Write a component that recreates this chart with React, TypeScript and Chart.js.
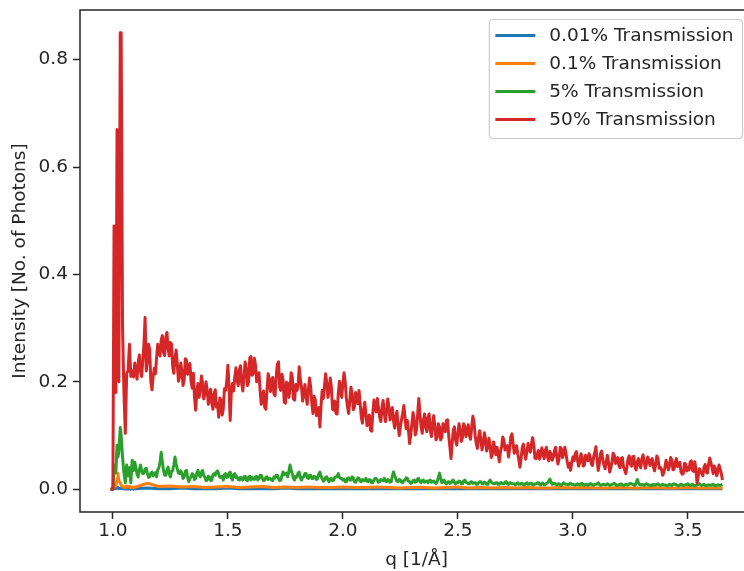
import React, { useEffect, useRef } from 'react';
import { Chart, registerables } from 'chart.js';

Chart.register(...registerables);

// ---------------- data ----------------
const SERIES_LABELS = ['0.01% Transmission', '0.1% Transmission', '5% Transmission', '50% Transmission'];
const SERIES_COLORS = ['#1f77b4', '#ff7f0e', '#2ca02c', '#d62728'];

const X_TICKS = [1.0, 1.5, 2.0, 2.5, 3.0, 3.5];
const Y_TICKS = [0.0, 0.2, 0.4, 0.6, 0.8];
const X_MIN = 0.857;
const X_MAX = 3.783;
const Y_MIN = -0.0425;
const Y_MAX = 0.8925;

// irregular sampling of the sharp onset region
const EARLY_Q = [0.99, 1.0, 1.005, 1.01, 1.013, 1.018, 1.022, 1.026, 1.032, 1.036, 1.042, 1.048, 1.054, 1.06, 1.066, 1.072, 1.078, 1.084, 1.09, 1.095];
// regular sampling after the onset
const MAIN_Q_START = 1.1;
const MAIN_Q_STEP = 0.005;
const COARSE_Q_STEP = 0.05;

const RED_EARLY = [0, 0, 0.49, 0.49, 0.18, 0.67, 0.67, 0.2, 0.85, 0.85, 0.3, 0.18, 0.104, 0.216, 0.22, 0.27, 0.21, 0.22, 0.209, 0.235];
const RED_MAIN = [
  0.22, 0.205, 0.235, 0.25, 0.22, 0.21, 0.24, 0.27, 0.32, 0.22, 0.24, 0.27, 0.26, 0.2, 0.185, 0.21, 0.225, 0.215, 0.245, 0.27,
  0.26, 0.248, 0.277, 0.286, 0.255, 0.249, 0.283, 0.292, 0.262, 0.248, 0.273, 0.27, 0.228, 0.216, 0.245, 0.259, 0.233, 0.201, 0.209, 0.235,
  0.22, 0.193, 0.205, 0.243, 0.24, 0.214, 0.228, 0.234, 0.2, 0.188, 0.216, 0.17, 0.147, 0.182, 0.197, 0.171, 0.184, 0.211, 0.197, 0.168,
  0.178, 0.2, 0.185, 0.158, 0.172, 0.186, 0.16, 0.149, 0.178, 0.185, 0.153, 0.16, 0.134, 0.17, 0.166, 0.138, 0.15, 0.187, 0.184, 0.2,
  0.231, 0.19, 0.128, 0.183, 0.197, 0.183, 0.209, 0.226, 0.203, 0.193, 0.222, 0.23, 0.197, 0.183, 0.209, 0.237, 0.225, 0.193, 0.2, 0.244,
  0.247, 0.212, 0.216, 0.244, 0.231, 0.2, 0.209, 0.217, 0.184, 0.158, 0.172, 0.183, 0.153, 0.149, 0.184, 0.215, 0.206, 0.182, 0.197, 0.208,
  0.178, 0.174, 0.209, 0.233, 0.237, 0.19, 0.184, 0.214, 0.203, 0.162, 0.16, 0.199, 0.197, 0.171, 0.185, 0.217, 0.209, 0.168, 0.166, 0.195,
  0.184, 0.19, 0.228, 0.205, 0.19, 0.164, 0.178, 0.195, 0.172, 0.158, 0.184, 0.207, 0.19, 0.16, 0.141, 0.173, 0.166, 0.137, 0.147, 0.152,
  0.116, 0.155, 0.184, 0.169, 0.193, 0.215, 0.197, 0.171, 0.184, 0.207, 0.19, 0.149, 0.147, 0.164, 0.141, 0.14, 0.178, 0.201, 0.184, 0.171,
  0.198, 0.217, 0.2, 0.17, 0.153, 0.141, 0.165, 0.19, 0.178, 0.148, 0.153, 0.18, 0.17, 0.159, 0.184, 0.16, 0.134, 0.123, 0.147, 0.162,
  0.141, 0.118, 0.13, 0.138, 0.11, 0.108, 0.141, 0.166, 0.155, 0.144, 0.169, 0.15, 0.134, 0.126, 0.153, 0.165, 0.14, 0.126, 0.147, 0.168,
  0.153, 0.129, 0.14, 0.152, 0.128, 0.114, 0.135, 0.145, 0.119, 0.1, 0.116, 0.13, 0.141, 0.156, 0.134, 0.113, 0.128, 0.11, 0.085, 0.1,
  0.122, 0.143, 0.128, 0.101, 0.11, 0.14, 0.169, 0.14, 0.116, 0.104, 0.128, 0.14, 0.116, 0.107, 0.134, 0.14, 0.11, 0.098, 0.122, 0.137,
  0.116, 0.092, 0.097, 0.122, 0.116, 0.092, 0.097, 0.122, 0.116, 0.107, 0.128, 0.129, 0.1, 0.08, 0.057, 0.085, 0.11, 0.116, 0.091, 0.082,
  0.103, 0.122, 0.11, 0.089, 0.097, 0.122, 0.116, 0.098, 0.11, 0.12, 0.1, 0.093, 0.116, 0.136, 0.125, 0.1, 0.085, 0.076, 0.097, 0.109,
  0.091, 0.073, 0.085, 0.105, 0.094, 0.071, 0.078, 0.095, 0.081, 0.059, 0.066, 0.088, 0.079, 0.064, 0.078, 0.065, 0.051, 0.07, 0.079, 0.097,
  0.091, 0.073, 0.078, 0.081, 0.06, 0.075, 0.097, 0.103, 0.085, 0.067, 0.072, 0.081, 0.066, 0.055, 0.041, 0.058, 0.078, 0.084, 0.066, 0.056,
  0.07, 0.085, 0.076, 0.069, 0.085, 0.096, 0.082, 0.058, 0.057, 0.065, 0.072, 0.056, 0.063, 0.077, 0.066, 0.057, 0.072, 0.078, 0.06, 0.053,
  0.07, 0.065, 0.054, 0.06, 0.072, 0.078, 0.06, 0.047, 0.057, 0.078, 0.075, 0.059, 0.066, 0.078, 0.066, 0.052, 0.041, 0.048, 0.035, 0.05,
  0.06, 0.053, 0.066, 0.07, 0.054, 0.043, 0.051, 0.066, 0.06, 0.043, 0.045, 0.063, 0.06, 0.053, 0.066, 0.06, 0.047, 0.044, 0.06, 0.068,
  0.079, 0.055, 0.035, 0.048, 0.066, 0.071, 0.055, 0.045, 0.038, 0.05, 0.063, 0.05, 0.032, 0.04, 0.051, 0.067, 0.063, 0.048, 0.054, 0.059,
  0.044, 0.04, 0.057, 0.059, 0.041, 0.036, 0.029, 0.042, 0.057, 0.062, 0.047, 0.043, 0.06, 0.061, 0.041, 0.036, 0.051, 0.057, 0.044, 0.04,
  0.057, 0.064, 0.051, 0.039, 0.047, 0.06, 0.054, 0.044, 0.054, 0.057, 0.041, 0.034, 0.047, 0.062, 0.057, 0.039, 0.041, 0.037, 0.026, 0.03,
  0.041, 0.054, 0.047, 0.036, 0.044, 0.059, 0.054, 0.036, 0.038, 0.05, 0.057, 0.042, 0.047, 0.05, 0.032, 0.028, 0.029, 0.048, 0.047, 0.034,
  0.041, 0.036, 0.051, 0.053, 0.035, 0.033, 0.051, 0.036, 0.011, 0.025, 0.038, 0.033, 0.029, 0.025, 0.041, 0.046, 0.032, 0.03, 0.047, 0.058,
  0.049, 0.04, 0.029, 0.043, 0.038, 0.025, 0.032, 0.045, 0.038, 0.03, 0.017,
];

const GREEN_EARLY = [0, 0, 0.04, 0.045, 0.03, 0.082, 0.06, 0.07, 0.115, 0.1, 0.06, 0.03, 0.012, 0.045, 0.025, 0.04, 0.012, 0.054, 0.035, 0.05];
const GREEN_MAIN = [
  0.041, 0.028, 0.023, 0.036, 0.045, 0.034, 0.029, 0.03, 0.038, 0.039, 0.03, 0.022, 0.023, 0.03, 0.032, 0.025, 0.028, 0.031, 0.023, 0.036,
  0.04, 0.05, 0.069, 0.05, 0.035, 0.026, 0.026, 0.036, 0.041, 0.028, 0.023, 0.033, 0.035, 0.045, 0.06, 0.046, 0.038, 0.03, 0.029, 0.034,
  0.029, 0.02, 0.023, 0.033, 0.035, 0.022, 0.014, 0.02, 0.023, 0.029, 0.026, 0.018, 0.02, 0.03, 0.035, 0.026, 0.023, 0.032, 0.035, 0.025,
  0.023, 0.016, 0.017, 0.024, 0.023, 0.016, 0.017, 0.027, 0.029, 0.026, 0.032, 0.034, 0.029, 0.022, 0.023, 0.024, 0.017, 0.027, 0.029, 0.022,
  0.023, 0.03, 0.032, 0.021, 0.017, 0.027, 0.029, 0.022, 0.023, 0.018, 0.017, 0.022, 0.02, 0.017, 0.023, 0.024, 0.017, 0.016, 0.023, 0.024,
  0.017, 0.022, 0.02, 0.018, 0.023, 0.024, 0.017, 0.02, 0.026, 0.026, 0.02, 0.016, 0.017, 0.022, 0.023, 0.018, 0.02, 0.02, 0.017, 0.016,
  0.023, 0.021, 0.026, 0.026, 0.02, 0.016, 0.017, 0.025, 0.032, 0.027, 0.029, 0.03, 0.023, 0.032, 0.045, 0.036, 0.029, 0.02, 0.017, 0.024,
  0.023, 0.03, 0.032, 0.022, 0.017, 0.022, 0.023, 0.029, 0.029, 0.022, 0.02, 0.026, 0.026, 0.02, 0.02, 0.024, 0.023, 0.018, 0.02, 0.028,
  0.032, 0.024, 0.02, 0.015, 0.017, 0.022, 0.023, 0.017, 0.014, 0.019, 0.02, 0.016, 0.017, 0.022, 0.023, 0.024, 0.029, 0.022, 0.02, 0.02,
  0.017, 0.019, 0.014, 0.014, 0.02, 0.021, 0.017, 0.017, 0.023, 0.021, 0.014, 0.013, 0.017, 0.021, 0.02, 0.015, 0.014, 0.018, 0.017, 0.016,
  0.02, 0.015, 0.014, 0.018, 0.017, 0.012, 0.012, 0.017, 0.02, 0.02, 0.017, 0.013, 0.014, 0.018, 0.017, 0.016, 0.02, 0.015, 0.014, 0.018,
  0.017, 0.013, 0.014, 0.024, 0.032, 0.025, 0.02, 0.015, 0.014, 0.018, 0.017, 0.013, 0.012, 0.016, 0.017, 0.021, 0.02, 0.015, 0.014, 0.011,
  0.012, 0.016, 0.017, 0.013, 0.014, 0.019, 0.02, 0.014, 0.012, 0.016, 0.017, 0.013, 0.014, 0.015, 0.012, 0.016, 0.017, 0.013, 0.014, 0.015,
  0.012, 0.011, 0.014, 0.022, 0.03, 0.021, 0.012, 0.016, 0.017, 0.012, 0.01, 0.013, 0.014, 0.011, 0.012, 0.016, 0.017, 0.012, 0.01, 0.013,
  0.012, 0.015, 0.014, 0.01, 0.01, 0.015, 0.017, 0.013, 0.012, 0.01, 0.01, 0.013, 0.014, 0.011, 0.012, 0.012, 0.009, 0.009, 0.012, 0.014,
  0.014, 0.01, 0.01, 0.013, 0.012, 0.009, 0.009, 0.014, 0.017, 0.013, 0.012, 0.01, 0.01, 0.012, 0.012, 0.009, 0.009, 0.012, 0.012, 0.01,
  0.01, 0.013, 0.014, 0.01, 0.009, 0.012, 0.012, 0.01, 0.01, 0.01, 0.008, 0.011, 0.012, 0.009, 0.009, 0.011, 0.011, 0.008, 0.008, 0.011,
  0.012, 0.009, 0.009, 0.011, 0.011, 0.008, 0.008, 0.01, 0.01, 0.012, 0.012, 0.009, 0.008, 0.011, 0.011, 0.008, 0.009, 0.011, 0.012, 0.015,
  0.019, 0.013, 0.009, 0.011, 0.011, 0.009, 0.008, 0.01, 0.01, 0.008, 0.007, 0.01, 0.012, 0.01, 0.009, 0.009, 0.008, 0.01, 0.011, 0.009,
  0.009, 0.008, 0.007, 0.009, 0.01, 0.008, 0.008, 0.01, 0.011, 0.008, 0.007, 0.009, 0.009, 0.007, 0.008, 0.01, 0.01, 0.008, 0.007, 0.009,
  0.009, 0.01, 0.012, 0.009, 0.007, 0.008, 0.009, 0.009, 0.008, 0.008, 0.01, 0.009, 0.007, 0.008, 0.009, 0.01, 0.011, 0.009, 0.007, 0.008,
  0.008, 0.009, 0.01, 0.008, 0.007, 0.008, 0.009, 0.008, 0.008, 0.01, 0.011, 0.01, 0.009, 0.008, 0.007, 0.012, 0.018, 0.012, 0.008, 0.008,
  0.009, 0.008, 0.007, 0.009, 0.01, 0.009, 0.008, 0.007, 0.006, 0.008, 0.009, 0.008, 0.008, 0.009, 0.01, 0.008, 0.007, 0.008, 0.009, 0.008,
  0.008, 0.007, 0.006, 0.008, 0.009, 0.008, 0.007, 0.009, 0.01, 0.009, 0.008, 0.007, 0.006, 0.008, 0.009, 0.008, 0.007, 0.008, 0.008, 0.009,
  0.01, 0.008, 0.007, 0.008, 0.009, 0.007, 0.006, 0.007, 0.008, 0.009, 0.01, 0.008, 0.007, 0.008, 0.009, 0.007, 0.006, 0.007, 0.008, 0.008,
  0.007, 0.008, 0.009, 0.007, 0.006, 0.007, 0.008, 0.008, 0.007, 0.008, 0.009,
];

const ORANGE_EARLY = [0, 0, 0.005, 0.01, 0.006, 0.02, 0.029, 0.015, 0.012, 0.008, 0.005, 0.004, 0.003, 0.006, 0.004, 0.005, 0.003, 0.004, 0.003, 0.004];
const ORANGE_COARSE = [
  0.004, 0.011, 0.005, 0.006, 0.004, 0.005, 0.003, 0.004, 0.005, 0.003,
  0.004, 0.005, 0.003, 0.004, 0.003, 0.004, 0.003, 0.003, 0.004, 0.003,
  0.003, 0.004, 0.003, 0.002, 0.003, 0.003, 0.002, 0.003, 0.004, 0.002,
  0.003, 0.002, 0.003, 0.002, 0.003, 0.002, 0.002, 0.003, 0.002, 0.003,
  0.002, 0.002, 0.003, 0.002, 0.002, 0.003, 0.002, 0.002, 0.003, 0.002,
  0.002, 0.002,
];

const BLUE_EARLY = [0, 0, 0.001, 0.002, 0.001, 0.003, 0.002, 0.001, 0.002, 0.001, 0.001, 0.001, 0, 0.001, 0, 0.001, 0, 0.001, 0, 0.001];
const BLUE_COARSE = [
  0.001, 0.002, 0.001, 0.001, 0.002, 0.001, 0.001, 0.001, 0.002, 0.001,
  0.001, 0.001, 0.001, 0.002, 0.001, 0.001, 0.001, 0.001, 0.001, 0.001,
  0.001, 0.001, 0.001, 0.001, 0.001, 0.001, 0.001, 0.001, 0.001, 0.001,
  0.001, 0.001, 0.001, 0.001, 0.001, 0.001, 0.001, 0.001, 0.001, 0.001,
  0.001, 0.001, 0.001, 0.001, 0.001, 0.001, 0.001, 0.001, 0.001, 0.001,
  0.001, 0.001,
];

// ---------------- styling ----------------
const FONT_FAMILY = '"DejaVu Sans", "Liberation Sans", sans-serif';
const FONT_SIZE = 18.5;
const TEXT_COLOR = '#262626';
const SPINE_COLOR = '#262626';
const LINE_WIDTH = 3;

const CANVAS_W = 770;
const CANVAS_H = 571;

const gridQ = (count: number, step: number) =>
  Array.from({ length: count }, (_, i) => Math.round((MAIN_Q_START + i * step) * 10000) / 10000);

const toPoints = (qs: number[], vs: number[]) => qs.map((q, i) => ({ x: q, y: vs[i] }));

const spinesPlugin = {
  id: 'mplSpines',
  afterDatasetsDraw(chart: any) {
    const { ctx, chartArea } = chart;
    const { left, right, top, bottom } = chartArea;
    ctx.save();
    ctx.strokeStyle = SPINE_COLOR;
    ctx.lineWidth = 1.5;
    ctx.beginPath();
    ctx.moveTo(right, top);
    ctx.lineTo(left, top);
    ctx.lineTo(left, bottom);
    ctx.lineTo(right, bottom);
    ctx.stroke();
    ctx.restore();
  },
};

const legendPlugin = {
  id: 'mplLegend',
  afterDraw(chart: any) {
    const { ctx, chartArea } = chart;
    const datasets = chart.data.datasets;
    ctx.save();
    ctx.font = `${FONT_SIZE}px ${FONT_FAMILY}`;
    const textW = Math.max(...datasets.map((d: any) => ctx.measureText(d.label).width));
    const boxW = textW + 69;
    const boxH = 119;
    const right = chartArea.right - 10.5;
    const left = right - boxW;
    const top = chartArea.top + 9.5;
    const r = 4;
    ctx.beginPath();
    ctx.moveTo(left + r, top);
    ctx.lineTo(left + boxW - r, top);
    ctx.quadraticCurveTo(left + boxW, top, left + boxW, top + r);
    ctx.lineTo(left + boxW, top + boxH - r);
    ctx.quadraticCurveTo(left + boxW, top + boxH, left + boxW - r, top + boxH);
    ctx.lineTo(left + r, top + boxH);
    ctx.quadraticCurveTo(left, top + boxH, left, top + boxH - r);
    ctx.lineTo(left, top + r);
    ctx.quadraticCurveTo(left, top, left + r, top);
    ctx.closePath();
    ctx.fillStyle = 'rgba(255,255,255,0.85)';
    ctx.fill();
    ctx.strokeStyle = '#cccccc';
    ctx.lineWidth = 1.2;
    ctx.stroke();

    datasets.forEach((d: any, i: number) => {
      const y = top + 16 + 28 * i;
      ctx.beginPath();
      ctx.strokeStyle = d.borderColor;
      ctx.lineWidth = 2.8;
      ctx.moveTo(left + 6, y);
      ctx.lineTo(left + 46, y);
      ctx.stroke();
      ctx.fillStyle = TEXT_COLOR;
      ctx.textBaseline = 'middle';
      ctx.textAlign = 'left';
      ctx.fillText(d.label, left + 60, y + 1);
    });
    ctx.restore();
  },
};

export default function App() {
  const canvasRef = useRef<HTMLCanvasElement | null>(null);

  useEffect(() => {
    document.documentElement.style.overflow = 'hidden';
    document.body.style.overflow = 'hidden';
    document.body.style.margin = '0';
    if (!canvasRef.current) return;
    const mainQ = gridQ(RED_MAIN.length, MAIN_Q_STEP);
    const coarseQ = gridQ(ORANGE_COARSE.length, COARSE_Q_STEP);

    const seriesData = [
      [...toPoints(EARLY_Q, BLUE_EARLY), ...toPoints(coarseQ, BLUE_COARSE)],
      [...toPoints(EARLY_Q, ORANGE_EARLY), ...toPoints(coarseQ, ORANGE_COARSE)],
      [...toPoints(EARLY_Q, GREEN_EARLY), ...toPoints(mainQ, GREEN_MAIN)],
      [...toPoints(EARLY_Q, RED_EARLY), ...toPoints(mainQ, RED_MAIN)],
    ];

    const font = { family: FONT_FAMILY, size: FONT_SIZE, lineHeight: 1.2 };

    const chart = new Chart(canvasRef.current, {
      type: 'line',
      data: {
        datasets: seriesData.map((data, i) => ({
          label: SERIES_LABELS[i],
          data,
          borderColor: SERIES_COLORS[i],
          backgroundColor: SERIES_COLORS[i],
          borderWidth: LINE_WIDTH,
          borderJoinStyle: 'round',
          pointRadius: 0,
          tension: 0,
          fill: false,
          order: 4 - i,
        })),
      },
      options: {
        animation: false,
        responsive: false,
        events: [],
        layout: { padding: { left: 0, top: 10, right: CANVAS_W - 753, bottom: 0 } },
        plugins: {
          legend: { display: false },
          tooltip: { enabled: false },
        },
        scales: {
          x: {
            type: 'linear',
            position: 'bottom',
            min: X_MIN,
            max: X_MAX,
            afterBuildTicks: (scale: any) => {
              scale.ticks = X_TICKS.map((v) => ({ value: v }));
            },
            afterFit: (scale: any) => {
              scale.height = 59;
              scale.paddingLeft = 0;
              scale.paddingRight = 0;
            },
            grid: {
              display: true,
              drawOnChartArea: false,
              drawTicks: true,
              tickLength: 7,
              tickColor: SPINE_COLOR,
              tickWidth: 1.5,
            },
            border: { display: false },
            ticks: {
              autoSkip: false,
              maxRotation: 0,
              padding: 1,
              color: TEXT_COLOR,
              font,
              callback: (v: any) => Number(v).toFixed(1),
            },
            title: {
              display: true,
              text: 'q [1/Å]',
              color: TEXT_COLOR,
              font,
              padding: { top: 0, bottom: 0 },
            },
          },
          y: {
            type: 'linear',
            position: 'left',
            min: Y_MIN,
            max: Y_MAX,
            afterBuildTicks: (scale: any) => {
              scale.ticks = Y_TICKS.map((v) => ({ value: v }));
            },
            afterFit: (scale: any) => {
              scale.width = 80;
              scale.paddingTop = 0;
              scale.paddingBottom = 0;
            },
            grid: {
              display: true,
              drawOnChartArea: false,
              drawTicks: true,
              tickLength: 7,
              tickColor: SPINE_COLOR,
              tickWidth: 1.5,
            },
            border: { display: false },
            ticks: {
              autoSkip: false,
              padding: 5,
              color: TEXT_COLOR,
              font,
              callback: (v: any) => Number(v).toFixed(1),
            },
            title: {
              display: true,
              text: 'Intensity [No. of Photons]',
              color: TEXT_COLOR,
              font,
              padding: { top: 9, bottom: 0 },
            },
          },
        },
      } as any,
      plugins: [spinesPlugin, legendPlugin],
    });

    return () => chart.destroy();
  }, []);

  return (
    <div
      style={{
        position: 'fixed',
        left: 0,
        top: 0,
        width: 744,
        height: 571,
        overflow: 'hidden',
        background: '#ffffff',
      }}
    >
      <canvas
        ref={canvasRef}
        width={CANVAS_W}
        height={CANVAS_H}
        style={{ display: 'block', width: CANVAS_W, height: CANVAS_H }}
      />
    </div>
  );
}
